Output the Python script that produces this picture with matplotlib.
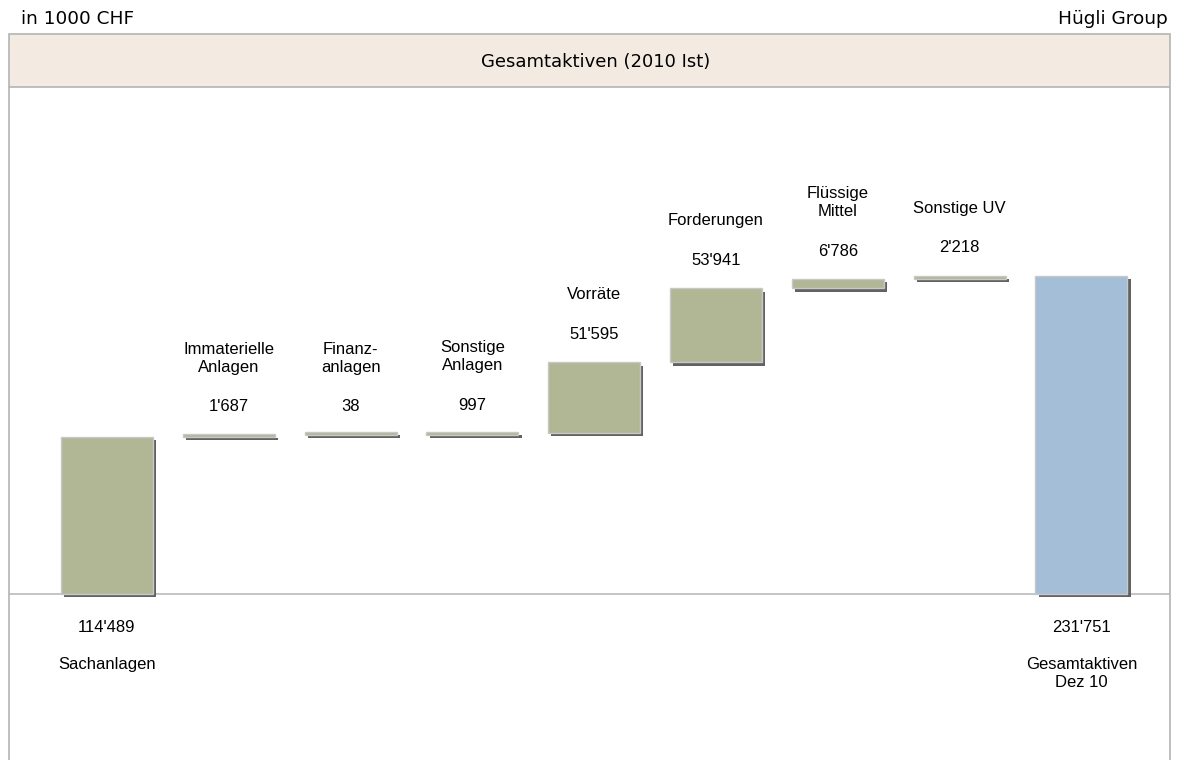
"""Waterfall of total assets (Hügli Group, 2010 actual), in 1000 CHF."""
import matplotlib
matplotlib.use("Agg")
import matplotlib.pyplot as plt
import matplotlib.patheffects as pe
from matplotlib.patches import Rectangle
import numpy as np

W, H, DPI = 1180, 760, 100

categories = ["Sachanlagen", "Immaterielle\nAnlagen", "Finanz-\nanlagen", "Sonstige\nAnlagen",
              "Vorräte", "Forderungen", "Flüssige\nMittel", "Sonstige UV", "Gesamtaktiven\nDez 10"]
values = [114489, 1687, 38, 997, 51595, 53941, 6786, 2218, 231751]
labels = ["114'489", "1'687", "38", "997", "51'595", "53'941", "6'786", "2'218", "231'751"]
is_total = [True, False, False, False, False, False, False, False, True]

OLIVE, BLUE = "#b1b695", "#a3bed6"
BAND, FRAME, BASE, EDGE, SHADOW = "#f3ebe2", "#b4b4b4", "#c4c4c4", "#c8c8c8", "#5a5a5a"
LABEL_FONT = "Liberation Sans"
HEAD_FONT = "DejaVu Sans"
FS = 12

# pixel geometry of the plot area (from the top of the picture)
PLOT_TOP, BASE_Y, LEFT, RIGHT = 88, 594, 9, 1170
UNITS_PER_PX = values[-1] / 318.0
STEP_PX, FIRST_X, BAR_PX = 121.8, 107, 92

fig = plt.figure(figsize=(W / DPI, H / DPI), dpi=DPI, facecolor="white")
ax = fig.add_axes([LEFT / W, 0, (RIGHT - LEFT) / W, (H - PLOT_TOP) / H])
ax.set_xlim((LEFT - FIRST_X) / STEP_PX, (RIGHT - FIRST_X) / STEP_PX)
ax.set_ylim(-(H - BASE_Y) * UNITS_PER_PX, (BASE_Y - PLOT_TOP) * UNITS_PER_PX)
for sp in ("top", "bottom"):
    ax.spines[sp].set_visible(False)
for sp in ("left", "right"):
    ax.spines[sp].set_color(FRAME)
    ax.spines[sp].set_linewidth(1.2)
ax.set_xticks([])
ax.set_yticks([])
ax.axhline(0, color=BASE, lw=1.4, zorder=1)

# waterfall bottoms
vals = np.array(values, dtype=float)
bottoms = np.zeros_like(vals)
run = 0.0
for i, v in enumerate(vals):
    if is_total[i] and i > 0:
        bottoms[i] = 0
    else:
        bottoms[i] = run
        run += v
heights = np.maximum(vals, 2.5 * UNITS_PER_PX)  # keep tiny steps visible
x = np.arange(len(vals))
colors = [BLUE if (t and i == len(vals) - 1) else OLIVE for i, t in enumerate(is_total)]

bars = ax.bar(x, heights, BAR_PX / STEP_PX, bottom=bottoms, color=colors,
              edgecolor=EDGE, linewidth=1.0, zorder=3)
for b in bars:
    b.set_path_effects([pe.SimplePatchShadow(offset=(2.3, -2.3), shadow_rgbFace=SHADOW, alpha=0.95),
                        pe.Normal()])

for i in x:
    if is_total[i]:
        ax.annotate(labels[i], (i, 0), xytext=(0, -33), textcoords="offset pixels",
                    ha="center", va="center", fontsize=FS, family=LABEL_FONT)
        ax.annotate(categories[i], (i, 0), xytext=(0, -63), textcoords="offset pixels",
                    ha="center", va="top", fontsize=FS, family=LABEL_FONT, linespacing=1.25)
    else:
        top = bottoms[i] + vals[i]
        ax.annotate(labels[i], (i, top), xytext=(0, 28), textcoords="offset pixels",
                    ha="center", va="center", fontsize=FS, family=LABEL_FONT)
        ax.annotate(categories[i], (i, top), xytext=(0, 60), textcoords="offset pixels",
                    ha="center", va="bottom", fontsize=FS, family=LABEL_FONT, linespacing=1.25)

# title band and header texts
fig.patches.append(Rectangle((LEFT / W, (H - 87) / H), (RIGHT - LEFT) / W, 53 / H,
                             transform=fig.transFigure, facecolor=BAND, edgecolor=FRAME,
                             linewidth=1.2, zorder=0))
fig.text(596 / W, 1 - 62 / H, "Gesamtaktiven (2010 Ist)", ha="center", va="center",
         fontsize=13, family=HEAD_FONT)
fig.text(21 / W, 1 - 19 / H, "in 1000 CHF", ha="left", va="center", fontsize=13.3, family=HEAD_FONT)
fig.text(1168 / W, 1 - 19 / H, "Hügli Group", ha="right", va="center", fontsize=13.3, family=HEAD_FONT)

fig.savefig("out.png", dpi=DPI, facecolor="white")
